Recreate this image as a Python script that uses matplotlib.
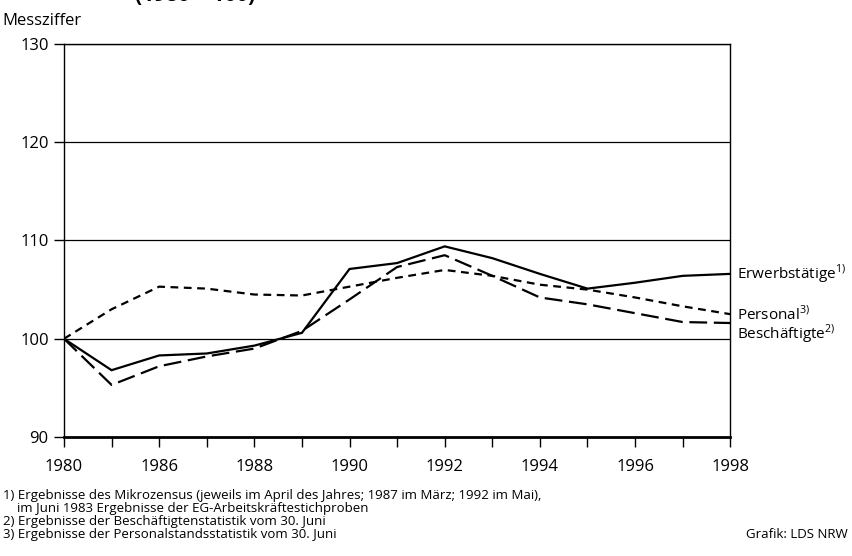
import numpy as np
import matplotlib
matplotlib.use('Agg')
import matplotlib.pyplot as plt

plt.rcParams['font.family'] = ['Open Sans', 'DejaVu Sans']

YEARS = [1980, 1983, 1986, 1987, 1988, 1989, 1990, 1991, 1992,
         1993, 1994, 1995, 1996, 1997, 1998]
ERWERBSTAETIGE = [100.0, 96.8, 98.3, 98.5, 99.3, 100.6, 107.1, 107.7, 109.4,
                  108.2, 106.6, 105.1, 105.7, 106.4, 106.6]
BESCHAEFTIGTE = [100.0, 95.3, 97.2, 98.2, 99.0, 100.8, 104.0, 107.3, 108.5,
                 106.4, 104.2, 103.5, 102.6, 101.7, 101.6]
PERSONAL = [100.0, 103.0, 105.3, 105.1, 104.5, 104.4, 105.3, 106.2, 107.0,
            106.4, 105.5, 105.0, 104.2, 103.3, 102.5]
Y_TICKS = [90, 100, 110, 120, 130]

FOOTNOTES = ("1) Ergebnisse des Mikrozensus (jeweils im April des Jahres; 1987 im März; 1992 im Mai),\n"
             "    im Juni 1983 Ergebnisse der EG-Arbeitskräftestichproben\n"
             "2) Ergebnisse der Beschäftigtenstatistik vom 30. Juni\n"
             "3) Ergebnisse der Personalstandsstatistik vom 30. Juni")

fig = plt.figure(figsize=(8.52, 5.56), dpi=100)
ax = fig.add_axes([0.0751, 0.214, 0.782, 0.707])

x = np.arange(len(YEARS))
ax.plot(x, ERWERBSTAETIGE, color='black', lw=1.6, solid_joinstyle='miter')
ax.plot(x, BESCHAEFTIGTE, color='black', lw=1.6, dashes=(8, 3))
ax.plot(x, PERSONAL, color='black', lw=1.6, dashes=(3.5, 2.5))

ax.set_xlim(0, len(YEARS) - 1)
ax.set_ylim(90, 130)
ax.set_yticks(Y_TICKS)
ax.set_xticks(x)
ax.set_xticklabels([str(y) if i % 2 == 0 else '' for i, y in enumerate(YEARS)])
for yv in Y_TICKS[1:]:
    ax.axhline(yv, color='black', lw=0.9, zorder=0)

ax.tick_params(axis='both', direction='out', length=7, width=1, labelsize=12, color='black')
ax.tick_params(axis='x', pad=9)
ax.tick_params(axis='y', pad=4)
for side in ['left', 'right', 'top']:
    ax.spines[side].set_linewidth(1)
ax.spines['bottom'].set_linewidth(2)

label_x = len(YEARS) - 1 + 0.15
ax.text(label_x, ERWERBSTAETIGE[-1], 'Erwerbstätige$^{\\mathregular{1)}}$',
        fontsize=11, va='center', ha='left', clip_on=False)
ax.text(label_x, PERSONAL[-1] - 0.05, 'Personal$^{\\mathregular{3)}}$',
        fontsize=11, va='center', ha='left', clip_on=False)
ax.text(label_x, BESCHAEFTIGTE[-1] - 1.2, 'Beschäftigte$^{\\mathregular{2)}}$',
        fontsize=11, va='center', ha='left', clip_on=False)

fig.text(0.158, 1.008, '(1980 = 100)', fontsize=15, fontweight='bold', va='center', ha='left')
fig.text(0.003, 0.962, 'Messziffer', fontsize=12, va='center', ha='left')

fig.text(0.003, 0.027, FOOTNOTES, fontsize=9.5, va='bottom', ha='left', linespacing=1.0)
fig.text(0.995, 0.027, 'Grafik: LDS NRW', fontsize=9.5, va='bottom', ha='right')

fig.savefig('out.png', dpi=100)
